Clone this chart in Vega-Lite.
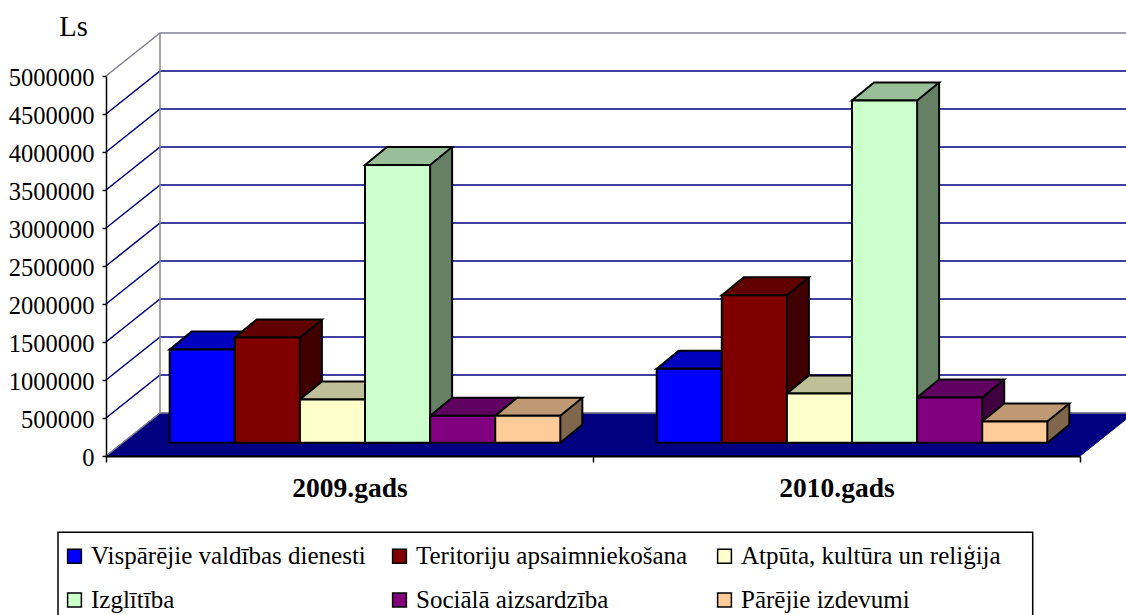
{
"$schema":"https://vega.github.io/schema/vega-lite/v6.json",
"width":974,"height":380,
"autosize":{"type":"none"},
"padding":{"left":106,"top":76,"right":46,"bottom":159},
"background":"white",
"config":{"view":{"stroke":null},"font":"Liberation Serif"},
"datasets":{
"bars":[
{"gads":"2009.gads","poste":"Vispārējie valdības dienesti","Ls":1228000},
{"gads":"2009.gads","poste":"Teritoriju apsaimniekošana","Ls":1386000},
{"gads":"2009.gads","poste":"Atpūta, kultūra un reliģija","Ls":570000},
{"gads":"2009.gads","poste":"Izglītība","Ls":3655000},
{"gads":"2009.gads","poste":"Sociālā aizsardzība","Ls":357000},
{"gads":"2009.gads","poste":"Pārējie izdevumi","Ls":357000},
{"gads":"2010.gads","poste":"Vispārējie valdības dienesti","Ls":974000},
{"gads":"2010.gads","poste":"Teritoriju apsaimniekošana","Ls":1942000},
{"gads":"2010.gads","poste":"Atpūta, kultūra un reliģija","Ls":649000},
{"gads":"2010.gads","poste":"Izglītība","Ls":4504000},
{"gads":"2010.gads","poste":"Sociālā aizsardzība","Ls":596000},
{"gads":"2010.gads","poste":"Pārējie izdevumi","Ls":280000}
],
"ticks":[{"v":0},{"v":500000},{"v":1000000},{"v":1500000},{"v":2000000},{"v":2500000},{"v":3000000},{"v":3500000},{"v":4000000},{"v":4500000},{"v":5000000}]
},
"layer":[
{"data":{"name":"ticks"},
 "transform":[{"filter":"datum.v==0"}],
 "mark":{"type":"point","shape":"M-243.5 0L-189.5 -43L784.5 -43L730.5 0Z","size":4,"filled":true,"fill":"#000080","stroke":"#000080","strokeWidth":1,"opacity":1},
 "encoding":{
  "x":{"datum":"2009.gads","type":"nominal","scale":{"domain":["2009.gads","2010.gads"],"paddingInner":0,"paddingOuter":0},
   "axis":{"title":null,"labelFont":"Liberation Serif","labelFontWeight":"bold","labelFontSize":27.5,"labelColor":"#000","labelAngle":0,"labelPadding":26,"tickBand":"extent","tickColor":"#000","tickSize":6,"tickWidth":1.5,"domainColor":"#000","domainWidth":2,"labelBaseline":"middle","zindex":1}},
  "y":{"field":"v","type":"quantitative","scale":{"domain":[0,5000000],"nice":false},
   "axis":{"tickCount":11,"values":[0,500000,1000000,1500000,2000000,2500000,3000000,3500000,4000000,4500000,5000000],"format":"d","grid":false,"labelOverlap":false,"title":"Ls","titleFont":"Liberation Serif","titleFontWeight":"normal","titleFontSize":28.5,"titleColor":"#000","titleAngle":0,"titleX":-33,"titleY":-41,"titleAlign":"center","titleBaseline":"alphabetic","labelFont":"Liberation Serif","labelFontSize":24.5,"labelColor":"#000","labelPadding":8,"labelOffset":2,"tickColor":"#000","tickSize":4,"tickWidth":1.5,"domainColor":"#000","domainWidth":1.5,"zindex":1}}
 }},
{"data":{"name":"ticks"},
 "mark":{"type":"point","shape":"M-243.5 0L-189.5 -43L900 -43","size":4,"filled":false,"strokeWidth":1.5,"opacity":1},
 "encoding":{
  "x":{"datum":"2009.gads","type":"nominal"},
  "y":{"field":"v","type":"quantitative"},
  "stroke":{"condition":{"test":"datum.v==0||datum.v==5000000","value":"#80808f"},"value":"#000080"}
 }},
{"data":{"name":"ticks"},
 "transform":[{"filter":"datum.v==5000000"}],
 "mark":{"type":"point","shape":"M-189.5 -43L-189.5 337","size":4,"filled":false,"stroke":"#888888","strokeWidth":1.5,"opacity":1},
 "encoding":{
  "x":{"datum":"2009.gads","type":"nominal"},
  "y":{"field":"v","type":"quantitative"}
 }},
{"data":{"name":"ticks"},
 "transform":[{"filter":"datum.v==0"}],
 "mark":{"type":"point","shape":"M-291.5 76.2L683.2 76.2L683.2 220L-291.5 220Z","size":4,"filled":true,"fill":"#fff","stroke":"#000","strokeWidth":1.5,"opacity":1},
 "encoding":{
  "x":{"datum":"2009.gads","type":"nominal"},
  "y":{"field":"v","type":"quantitative"}
 }},
{"data":{"name":"bars"},
 "encoding":{
  "x":{"field":"gads","type":"nominal"}
 },
 "resolve":{"scale":{"stroke":"independent","fill":"independent","xOffset":"independent"}},
 "layer":[
  {"mark":{"type":"rule","strokeWidth":22,"yOffset":-31.2,"y2Offset":-13.2},
   "encoding":{
    "xOffset":{"field":"poste","type":"nominal","scale":{"type":"band","domain":["Vispārējie valdības dienesti","Teritoriju apsaimniekošana","Atpūta, kultūra un reliģija","Izglītība","Sociālā aizsardzība","Pārējie izdevumi"],"paddingInner":0,"paddingOuter":0.74,"align":0.661,"range":[43.55,530.55]}},
    "y":{"field":"Ls","type":"quantitative"},"y2":{"datum":0},
    "stroke":{"field":"poste","type":"nominal","legend":null,"scale":{"domain":["Vispārējie valdības dienesti","Teritoriju apsaimniekošana","Atpūta, kultūra un reliģija","Izglītība","Sociālā aizsardzība","Pārējie izdevumi"],"range":["#000080","#400000","#808066","#668066","#400040","#80664D"]}}
   }},
  {"mark":{"type":"rule","strokeWidth":2,"stroke":"#000","yOffset":-31.2,"y2Offset":-31.2},
   "encoding":{
    "xOffset":{"field":"poste","type":"nominal","scale":{"type":"band","domain":["Vispārējie valdības dienesti","Teritoriju apsaimniekošana","Atpūta, kultūra un reliģija","Izglītība","Sociālā aizsardzība","Pārējie izdevumi"],"paddingInner":0,"paddingOuter":0.74,"align":0.661,"range":[54.55,541.55]}},
    "y":{"field":"Ls","type":"quantitative"},"y2":{"datum":0}
   }},
  {"mark":{"type":"point","shape":"M32.55 -13.2L56 -32.4L56 -12L32.55 -12Z","size":4,"filled":true,"fill":"#000080","strokeWidth":0,"opacity":1},
   "encoding":{
    "xOffset":{"field":"poste","type":"nominal","scale":{"type":"band","domain":["Vispārējie valdības dienesti","Teritoriju apsaimniekošana","Atpūta, kultūra un reliģija","Izglītība","Sociālā aizsardzība","Pārējie izdevumi"],"paddingInner":0,"paddingOuter":0.74,"align":0.661}},
    "y":{"datum":0,"type":"quantitative"}}},
  {"mark":{"type":"point","shape":"M32.55 -13.2L54.55 -31.2","size":4,"filled":false,"stroke":"#000","strokeWidth":2,"opacity":1},
   "encoding":{
    "xOffset":{"field":"poste","type":"nominal","scale":{"type":"band","domain":["Vispārējie valdības dienesti","Teritoriju apsaimniekošana","Atpūta, kultūra un reliģija","Izglītība","Sociālā aizsardzība","Pārējie izdevumi"],"paddingInner":0,"paddingOuter":0.74,"align":0.661}},
    "y":{"datum":0,"type":"quantitative"}}},
  {"mark":{"type":"point","shape":"M-32.55 -13.2L-10.55 -31.2L54.55 -31.2L32.55 -13.2Z","size":4,"filled":true,"stroke":"#000","strokeWidth":2,"opacity":1},
   "encoding":{
    "xOffset":{"field":"poste","type":"nominal","scale":{"type":"band","domain":["Vispārējie valdības dienesti","Teritoriju apsaimniekošana","Atpūta, kultūra un reliģija","Izglītība","Sociālā aizsardzība","Pārējie izdevumi"],"paddingInner":0,"paddingOuter":0.74,"align":0.661}},
    "y":{"field":"Ls","type":"quantitative"},
    "fill":{"field":"poste","type":"nominal","legend":null,"scale":{"domain":["Vispārējie valdības dienesti","Teritoriju apsaimniekošana","Atpūta, kultūra un reliģija","Izglītība","Sociālā aizsardzība","Pārējie izdevumi"],"range":["#0000BF","#600000","#BFBF99","#99BF99","#600060","#BF9973"]}}
   }},
  {"mark":{"type":"bar","yOffset":-13.2,"y2Offset":-13.2,"stroke":"#000","strokeWidth":2},
   "encoding":{
    "xOffset":{"field":"poste","type":"nominal","scale":{"type":"band","domain":["Vispārējie valdības dienesti","Teritoriju apsaimniekošana","Atpūta, kultūra un reliģija","Izglītība","Sociālā aizsardzība","Pārējie izdevumi"],"paddingInner":0,"paddingOuter":0.74,"align":0.661}},
    "y":{"field":"Ls","type":"quantitative"},"y2":{"datum":0},
    "fill":{"field":"poste","type":"nominal","scale":{"domain":["Vispārējie valdības dienesti","Teritoriju apsaimniekošana","Atpūta, kultūra un reliģija","Izglītība","Sociālā aizsardzība","Pārējie izdevumi"],"range":["#0000FF","#800000","#FFFFCC","#CCFFCC","#800080","#FFCC99"]},
     "legend":{"title":null,"orient":"none","legendX":-48,"legendY":463.5,"direction":"horizontal","columns":3,"gridAlign":"all","columnPadding":21,"rowPadding":18,"padding":4,"symbolType":"square","symbolSize":190,"symbolStrokeColor":"#000","symbolStrokeWidth":1.5,"labelFont":"Liberation Serif","labelFontSize":25,"labelColor":"#000","labelLimit":0,"labelOffset":4,"values":["Vispārējie valdības dienesti","Teritoriju apsaimniekošana","Atpūta, kultūra un reliģija","Izglītība","Sociālā aizsardzība","Pārējie izdevumi"]}}
   }}
 ]}
]
}
